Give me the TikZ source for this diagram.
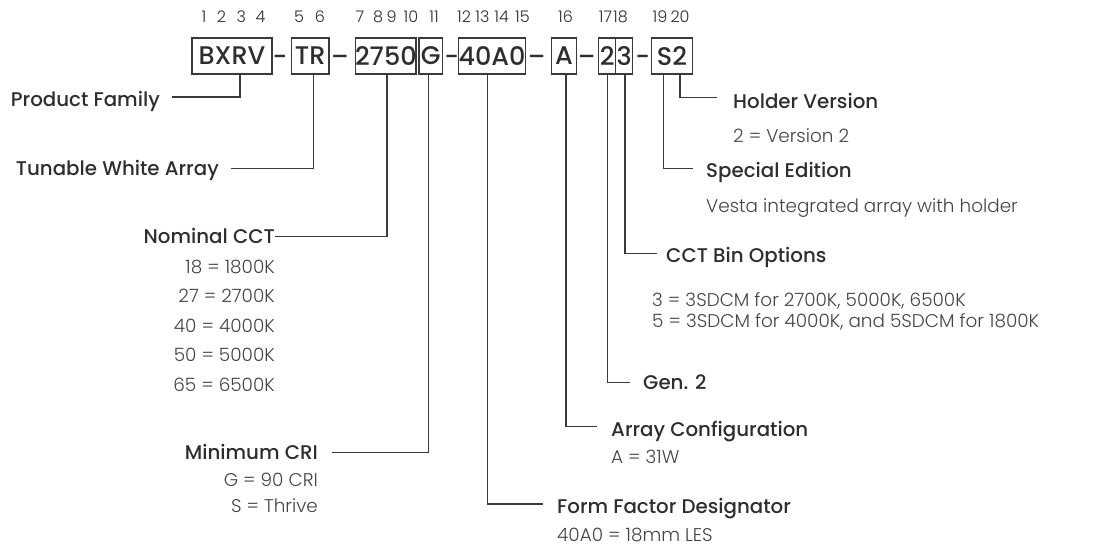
\documentclass[tikz,border=0pt]{standalone}
\usepackage{fontspec}
\setmainfont{Poppins}
\newfontfamily\lightfont{Poppins Light}
\newfontfamily\medfont{Poppins Medium}
\usetikzlibrary{calc}
\definecolor{ink}{HTML}{2E2E2E}
\definecolor{desc}{HTML}{444444}
\definecolor{linec}{HTML}{3A3A3A}
\newcommand{\boxtxt}[1]{\makebox[0pt][c]{#1}}
\begin{document}
\begin{tikzpicture}[x=1pt,y=-1pt,
  codebox/.style={draw=linec, line width=1.2pt, minimum height=36pt, inner sep=0pt, font=\medfont\fontsize{25.5}{28}\selectfont, text=ink},
  sepmark/.style={inner sep=0pt, anchor=base, font=\medfont\fontsize{25}{28}\selectfont, text=ink},
  posnum/.style={inner sep=0pt, anchor=base, font=\lightfont\fontsize{16}{18}\selectfont, text=ink},
  head/.style={inner sep=0pt, font=\medfont\fontsize{19.8}{22}\selectfont, text=ink},
  val/.style={inner sep=0pt, font=\lightfont\fontsize{18.4}{22}\selectfont, text=desc},
  conn/.style={draw=linec, line width=1.2pt}]
\useasboundingbox (0,0) rectangle (1096,546);
% position numbers
\node[posnum] (p1) at (204,23) {1};
\node[posnum] (p2) at (221.5,23) {2};
\node[posnum] (p3) at (241.3,23) {3};
\node[posnum] (p4) at (260.5,23) {4};
\node[posnum] (p5) at (299,23) {5};
\node[posnum] (p6) at (320,23) {6};
\node[posnum] (p7) at (360,23) {7};
\node[posnum] (p8) at (378,23) {8};
\node[posnum] (p9) at (391.5,23) {9};
\node[posnum] (p10) at (411,23) {10};
\node[posnum] (p11) at (434,23) {11};
\node[posnum] (p12) at (464,23) {12};
\node[posnum] (p13) at (482.5,23) {13};
\node[posnum] (p14) at (501.7,23) {14};
\node[posnum] (p15) at (522.5,23) {15};
\node[posnum] (p16) at (565.5,23) {16};
\node[posnum] (p17) at (605.5,23) {17};
\node[posnum] (p18) at (620.5,23) {18};
\node[posnum] (p19) at (660,23) {19};
\node[posnum] (p20) at (680,23) {20};
% code boxes
\node[codebox, minimum width=80pt] (bxrv) at (232,56) {\boxtxt{BXRV}};
\node[codebox, minimum width=37.7pt] (tr) at (310.15,56) {\boxtxt{TR}};
\node[codebox, minimum width=60.3pt] (cct) at (385.85,56) {\boxtxt{2750}};
\node[codebox, minimum width=23.7pt] (g) at (430.85,56) {\boxtxt{G}};
\node[codebox, minimum width=67.4pt] (ff) at (492,56) {\boxtxt{40A0}};
\node[codebox, minimum width=25.4pt] (a) at (564,56) {\boxtxt{A}};
\node[codebox, minimum width=17pt] (b2) at (607.2,56) {\boxtxt{2}};
\node[codebox, minimum width=17pt] (b3) at (624.2,56) {\boxtxt{3}};
\node[codebox, minimum width=40.6pt] (s2) at (672,56) {\boxtxt{S2}};
% separators
\node[sepmark] (d1) at (280,65) {-};
\node[sepmark] (d2) at (340,65) {–};
\node[sepmark] (d3) at (451.7,65) {-};
\node[sepmark] (d4) at (536.7,65) {–};
\node[sepmark] (d5) at (586.7,65) {–};
\node[sepmark] (d6) at (642.7,65) {-};
% left labels
\node[head, anchor=base east] (pf) at (160,106.7) {Product Family};
\node[head, anchor=base east] (twa) at (219,175) {Tunable White Array};
\node[head, anchor=base east] (ncct) at (275,243) {Nominal CCT};
\node[val, anchor=base east] (v18) at (275,273) {18 = 1800K};
\node[val, anchor=base east] (v27) at (275,302.5) {27 = 2700K};
\node[val, anchor=base east] (v40) at (275,332) {40 = 4000K};
\node[val, anchor=base east] (v50) at (275,361.5) {50 = 5000K};
\node[val, anchor=base east] (v65) at (275,391) {65 = 6500K};
\node[head, anchor=base east] (mcri) at (318,459) {Minimum CRI};
\node[val, anchor=base east] (g90) at (318,486.5) {G = 90 CRI};
\node[val, anchor=base east] (sth) at (318,512) {S = Thrive};
% right labels
\node[head, anchor=base west] (hv) at (733,108.5) {Holder Version};
\node[val, anchor=base west] (hv2) at (733,142) {2 = Version 2};
\node[head, anchor=base west] (se) at (706,177) {Special Edition};
\node[val, anchor=base west] (se2) at (706,212) {Vesta integrated array with holder};
\node[head, anchor=base west] (cbo) at (666,262.5) {CCT Bin Options};
\node[val, anchor=base west] (cbo3) at (652,306) {3 = 3SDCM for 2700K, 5000K, 6500K};
\node[val, anchor=base west] (cbo5) at (652,327) {5 = 3SDCM for 4000K, and 5SDCM for 1800K};
\node[head, anchor=base west] (gen) at (643,389.5) {Gen. 2};
\node[head, anchor=base west] (ac) at (611,436) {Array Configuration};
\node[val, anchor=base west] (ac2) at (611,463) {A = 31W};
\node[head, anchor=base west] (ffd) at (557,513.5) {Form Factor Designator};
\node[val, anchor=base west] (ffd2) at (557,541) {40A0 = 18mm LES};
% connector free ends
\coordinate (pfL) at (172,97);
\coordinate (twaL) at (231,168.3);
\coordinate (ncctL) at (275,236.7);
\coordinate (mcriL) at (331.7,452.7);
\coordinate (ffdL) at (543.3,504);
\coordinate (acL) at (596.7,426.7);
\coordinate (genL) at (630,382.7);
\coordinate (cboL) at (656.7,253.3);
\coordinate (seL) at (693.3,168.3);
\coordinate (hvL) at (716.7,97.3);
% connectors
\draw[conn] ($(bxrv.south)+(8,0)$) |- (pfL);
\draw[conn] ($(tr.south)+(3,0)$) |- (twaL);
\draw[conn] ($(cct.south)+(1.2,0)$) |- (ncctL);
\draw[conn] ($(g.south)+(-2,0)$) |- (mcriL);
\draw[conn] ($(ff.south)+(-4.7,0)$) |- (ffdL);
\draw[conn] ($(a.south)+(2,0)$) |- (acL);
\draw[conn] ($(b2.south)+(0.5,0)$) |- (genL);
\draw[conn] ($(b3.south)+(0.8,0)$) |- (cboL);
\draw[conn] ($(s2.south)+(-8.3,0)$) |- (seL);
\draw[conn] ($(s2.south)+(8,0)$) |- (hvL);
\end{tikzpicture}
\end{document}
